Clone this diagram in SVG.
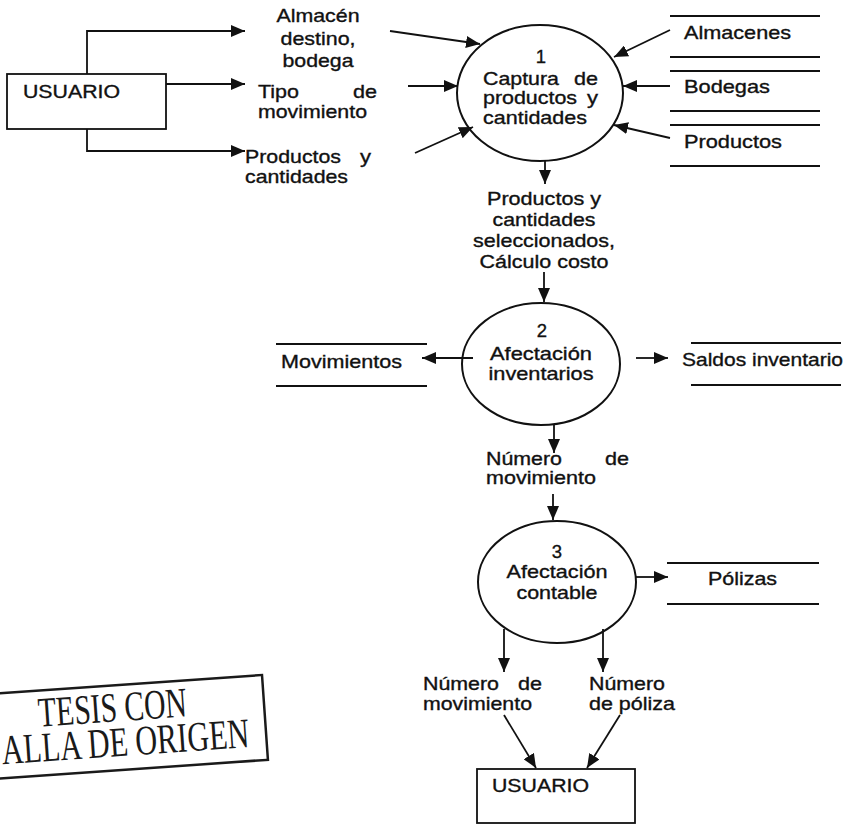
<svg xmlns="http://www.w3.org/2000/svg" width="862" height="825" viewBox="0 0 862 825">
  <style>
    .t { font-family: "Liberation Sans", Arial, sans-serif; font-size: 18.5px; fill: #111; stroke: #111; stroke-width: 0.35; }
    .m { text-anchor: middle; }
    .e { text-anchor: end; }
    .box { fill: none; stroke: #111; stroke-width: 1.8; }
    .proc { fill: none; stroke: #111; stroke-width: 2; }
    .store { stroke: #111; stroke-width: 1.8; }
    .flow { fill: none; stroke: #111; stroke-width: 1.8; marker-end: url(#arrow); }
    .stamp-text { font-family: "Liberation Serif", "Times New Roman", serif; font-size: 42px; fill: #1a1a1a; }
  </style>
  <defs>
    <marker id="arrow" markerUnits="userSpaceOnUse" markerWidth="14" markerHeight="12" refX="14" refY="6" orient="auto">
      <path d="M0,0 L14,6 L0,12 z" fill="#111"/>
    </marker>
  </defs>
  <rect width="862" height="825" fill="#fff"/>

  <!-- external entity: user (source) -->
  <g id="usuario-in">
    <rect class="box" x="7" y="74" width="159" height="55"/>
    <text class="t" x="23" y="98" textLength="97" lengthAdjust="spacingAndGlyphs">USUARIO</text>
  </g>

  <!-- process 1 -->
  <g id="proc1">
    <ellipse class="proc" cx="540" cy="93" rx="83" ry="68"/>
    <text class="t m" x="541" y="63">1</text>
    <text class="t" x="483" y="85" textLength="76" lengthAdjust="spacingAndGlyphs">Captura</text>
    <text class="t e" x="598" y="85" textLength="24" lengthAdjust="spacingAndGlyphs">de</text>
    <text class="t" x="483" y="104" textLength="94" lengthAdjust="spacingAndGlyphs">productos</text>
    <text class="t e" x="598" y="104" textLength="11" lengthAdjust="spacingAndGlyphs">y</text>
    <text class="t" x="483" y="124" textLength="104" lengthAdjust="spacingAndGlyphs">cantidades</text>
  </g>

  <!-- data stores read by process 1 -->
  <g id="store-almacenes">
    <line class="store" x1="670" y1="16" x2="820" y2="16"/>
    <line class="store" x1="670" y1="57" x2="820" y2="57"/>
    <text class="t" x="684" y="39" textLength="107" lengthAdjust="spacingAndGlyphs">Almacenes</text>
  </g>
  <g id="store-bodegas">
    <line class="store" x1="670" y1="71" x2="820" y2="71"/>
    <line class="store" x1="670" y1="111" x2="820" y2="111"/>
    <text class="t" x="684" y="93" textLength="86" lengthAdjust="spacingAndGlyphs">Bodegas</text>
  </g>
  <g id="store-productos">
    <line class="store" x1="670" y1="125" x2="820" y2="125"/>
    <line class="store" x1="670" y1="166" x2="820" y2="166"/>
    <text class="t" x="684" y="148" textLength="98" lengthAdjust="spacingAndGlyphs">Productos</text>
  </g>

  <!-- process 2 -->
  <g id="proc2">
    <ellipse class="proc" cx="541" cy="364" rx="79" ry="61"/>
    <text class="t m" x="542" y="337">2</text>
    <text class="t m" x="541" y="360" textLength="102" lengthAdjust="spacingAndGlyphs">Afectación</text>
    <text class="t m" x="541" y="380" textLength="105" lengthAdjust="spacingAndGlyphs">inventarios</text>
  </g>

  <g id="store-movimientos">
    <line class="store" x1="276" y1="344" x2="427" y2="344"/>
    <line class="store" x1="276" y1="386" x2="427" y2="386"/>
    <text class="t" x="281" y="368" textLength="121" lengthAdjust="spacingAndGlyphs">Movimientos</text>
  </g>
  <g id="store-saldos">
    <line class="store" x1="691" y1="343" x2="841" y2="343"/>
    <line class="store" x1="691" y1="385" x2="841" y2="385"/>
    <text class="t" x="682" y="366" textLength="161" lengthAdjust="spacingAndGlyphs">Saldos inventario</text>
  </g>

  <!-- process 3 -->
  <g id="proc3">
    <ellipse class="proc" cx="557" cy="582" rx="79" ry="61"/>
    <text class="t m" x="557" y="558">3</text>
    <text class="t m" x="557" y="578" textLength="101" lengthAdjust="spacingAndGlyphs">Afectación</text>
    <text class="t m" x="557" y="599" textLength="81" lengthAdjust="spacingAndGlyphs">contable</text>
  </g>

  <g id="store-polizas">
    <line class="store" x1="667" y1="563" x2="819" y2="563"/>
    <line class="store" x1="667" y1="604" x2="819" y2="604"/>
    <text class="t" x="708" y="585" textLength="69" lengthAdjust="spacingAndGlyphs">Pólizas</text>
  </g>

  <!-- external entity: user (sink) -->
  <g id="usuario-out">
    <rect class="box" x="477" y="769" width="158" height="54"/>
    <text class="t" x="492" y="792" textLength="97" lengthAdjust="spacingAndGlyphs">USUARIO</text>
  </g>

  <!-- data flows -->
  <g id="connectors">
    <path class="flow" d="M87,74 V31 H245"/>
    <path class="flow" d="M166,84 H245"/>
    <path class="flow" d="M87,129 V151 H245"/>
    <path class="flow" d="M390,31 L480,44"/>
    <path class="flow" d="M408,86 L458,86"/>
    <path class="flow" d="M415,153 L473,127"/>
    <path class="flow" d="M670,30 L614,57"/>
    <path class="flow" d="M670,86 L623,86"/>
    <path class="flow" d="M670,138 L614,125"/>
    <path class="flow" d="M545,161 V184"/>
    <path class="flow" d="M544,272 V302"/>
    <path class="flow" d="M473,358 H422"/>
    <path class="flow" d="M636,358 H668"/>
    <path class="flow" d="M554,425 V453"/>
    <path class="flow" d="M553,494 V520"/>
    <path class="flow" d="M636,577 H668"/>
    <path class="flow" d="M504,629 V672"/>
    <path class="flow" d="M603,629 V672"/>
    <path class="flow" d="M504,715 L536,768"/>
    <path class="flow" d="M620,715 L587,768"/>
  </g>

  <!-- flow labels -->
  <g id="flow-labels">
    <text class="t m" x="318" y="22" textLength="83" lengthAdjust="spacingAndGlyphs">Almacén</text>
    <text class="t m" x="318" y="45" textLength="75" lengthAdjust="spacingAndGlyphs">destino,</text>
    <text class="t m" x="318" y="67" textLength="71" lengthAdjust="spacingAndGlyphs">bodega</text>

    <text class="t" x="258" y="98" textLength="41" lengthAdjust="spacingAndGlyphs">Tipo</text>
    <text class="t e" x="377" y="98" textLength="24" lengthAdjust="spacingAndGlyphs">de</text>
    <text class="t" x="258" y="118" textLength="109" lengthAdjust="spacingAndGlyphs">movimiento</text>

    <text class="t" x="245" y="163" textLength="96" lengthAdjust="spacingAndGlyphs">Productos</text>
    <text class="t e" x="371" y="163" textLength="11" lengthAdjust="spacingAndGlyphs">y</text>
    <text class="t" x="245" y="183" textLength="103" lengthAdjust="spacingAndGlyphs">cantidades</text>

    <text class="t m" x="544" y="205" textLength="114" lengthAdjust="spacingAndGlyphs">Productos y</text>
    <text class="t m" x="544" y="226" textLength="103" lengthAdjust="spacingAndGlyphs">cantidades</text>
    <text class="t m" x="544" y="247" textLength="142" lengthAdjust="spacingAndGlyphs">seleccionados,</text>
    <text class="t m" x="544" y="268" textLength="129" lengthAdjust="spacingAndGlyphs">Cálculo costo</text>

    <text class="t" x="486" y="465" textLength="76" lengthAdjust="spacingAndGlyphs">Número</text>
    <text class="t e" x="629" y="465" textLength="24" lengthAdjust="spacingAndGlyphs">de</text>
    <text class="t" x="486" y="484" textLength="110" lengthAdjust="spacingAndGlyphs">movimiento</text>

    <text class="t" x="423" y="690" textLength="76" lengthAdjust="spacingAndGlyphs">Número</text>
    <text class="t e" x="542" y="690" textLength="24" lengthAdjust="spacingAndGlyphs">de</text>
    <text class="t" x="423" y="710" textLength="109" lengthAdjust="spacingAndGlyphs">movimiento</text>

    <text class="t" x="589" y="690" textLength="76" lengthAdjust="spacingAndGlyphs">Número</text>
    <text class="t" x="589" y="710" textLength="86" lengthAdjust="spacingAndGlyphs">de póliza</text>
  </g>

  <!-- rubber stamp, slightly tilted -->
  <g id="stamp" transform="rotate(-4 262 675)">
    <rect x="-40" y="675" width="302" height="85" fill="none" stroke="#1a1a1a" stroke-width="2.5"/>
    <text class="stamp-text" x="36" y="711" textLength="149" lengthAdjust="spacingAndGlyphs">TESIS CON</text>
    <text class="stamp-text" x="-3" y="746" textLength="248" lengthAdjust="spacingAndGlyphs">ALLA DE ORIGEN</text>
  </g>
</svg>
